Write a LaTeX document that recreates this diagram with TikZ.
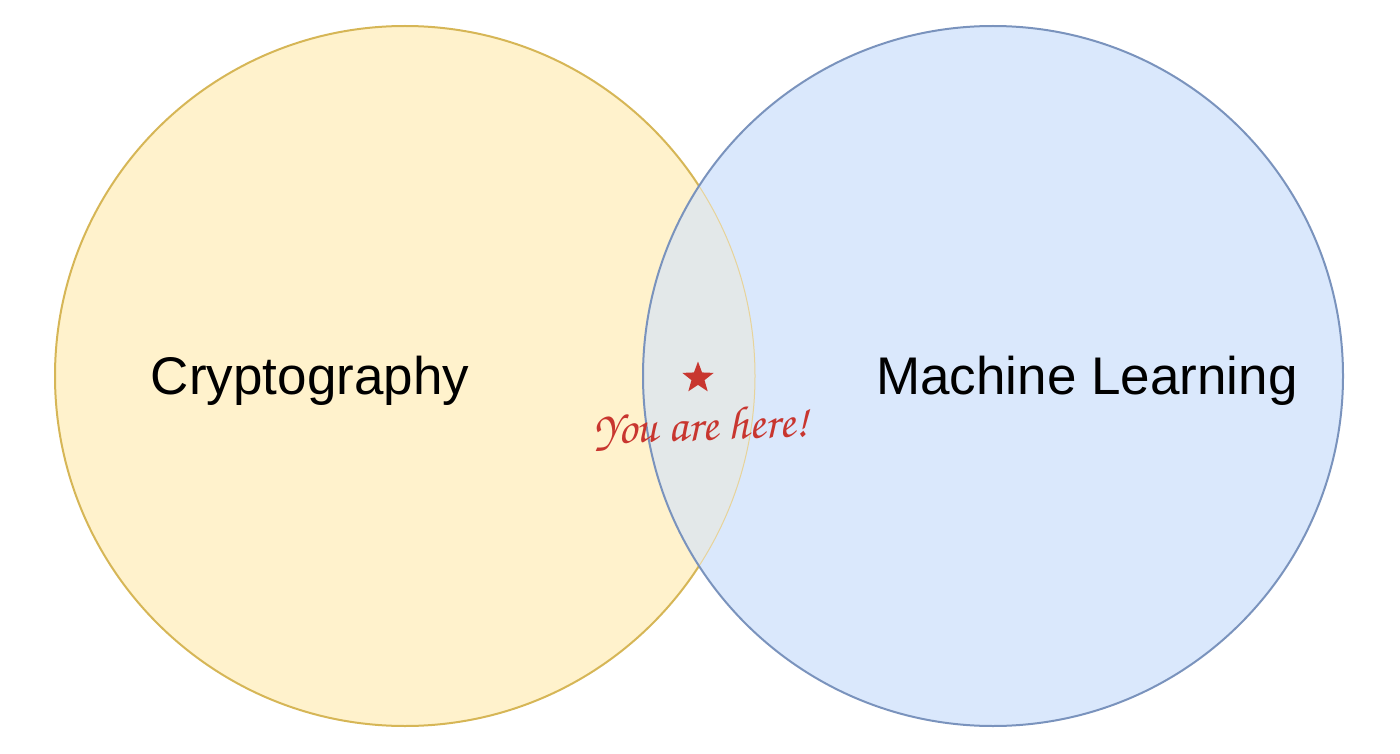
\documentclass[tikz,border=0pt]{standalone}
\usepackage{fontspec}
\setmainfont{Liberation Sans}
\usetikzlibrary{shapes.geometric}
\definecolor{cryptofill}{HTML}{FFF2CC}
\definecolor{cryptoline}{HTML}{D6B656}
\definecolor{mlfill}{HTML}{DAE8FC}
\definecolor{mlline}{HTML}{7A93BD}
\definecolor{overlapfill}{HTML}{E3E8E9}
\definecolor{herered}{HTML}{C8362F}
\newcommand{\handfont}{\fontencoding{OT1}\fontfamily{pzc}\fontseries{mb}\fontshape{it}\selectfont}

\begin{document}
\begin{tikzpicture}[x=1pt,y=-1pt,
  set/.style={circle, inner sep=0pt, minimum size=700pt, line width=2pt},
  setlabel/.style={font=\fontsize{53}{60}\selectfont}]
  \useasboundingbox (0,0) rectangle (1400,754);
  % the two sets
  \node[set, fill=cryptofill, draw=cryptoline] (crypto) at (405,376) {};
  \node[set, fill=mlfill] (ml) at (993,376) {};
  % overlap
  \begin{scope}
    \clip (crypto.center) circle[radius=350pt];
    \fill[overlapfill] (ml.center) circle[radius=350pt];
  \end{scope}
  \begin{scope}
    \clip (ml.center) circle[radius=350pt];
    \draw[cryptoline!60, line width=1pt] (crypto.center) circle[radius=350pt];
  \end{scope}
  \draw[mlline, line width=2pt] (ml.center) circle[radius=350pt];
  % labels
  \node[setlabel] (cryptolabel) at (310,381) {Cryptography};
  \node[setlabel] (mllabel) at (1087,381) {Machine Learning};
  \node[star, star points=5, star point ratio=2.4, fill=herered,
    minimum size=33pt, inner sep=0pt] (here) at (698,378) {};
  \node[text=herered, font=\handfont\fontsize{47}{52}\selectfont, rotate=2]
    (herelabel) at (701,428) {You are here!};
\end{tikzpicture}
\end{document}
